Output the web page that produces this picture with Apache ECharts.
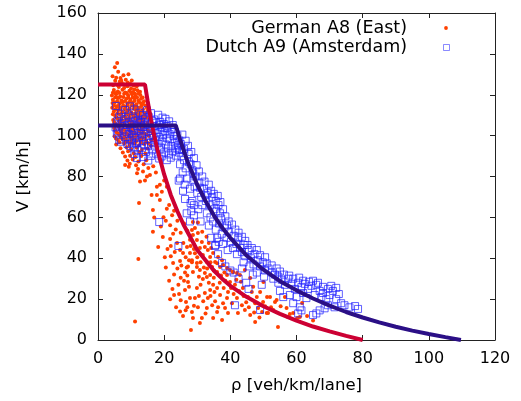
<!DOCTYPE html>
<html>
<head>
<meta charset="utf-8">
<script src="https://cdn.jsdelivr.net/npm/echarts@6/dist/echarts.min.js"></script>
<style>
  html, body { margin: 0; padding: 0; background: #fff; }
  #chart { width: 521px; height: 401px; }
</style>
</head>
<body>
<div id="chart"></div>
<script>
// Axis ranges and ticks
const xTicks = [0, 20, 40, 60, 80, 100, 120];
const yTicks = [0, 20, 40, 60, 80, 100, 120, 140, 160];

// Measured (density, speed) samples, German A8 (East)
const germanA8 = [
  [5.8,135.5],[5.1,133.4],[6.1,131.2],[4.4,129.1],[7.7,129.6],[9.2,130.0],[6.8,128.2],[8.4,127.4],[10.2,127.0],[5.2,126.8],
  [7.2,125.9],[9.8,125.3],[11.7,124.1],[4.6,124.6],[6.3,123.8],[8.9,124.2],[12.7,121.5],[11.0,122.6],
  [4.8,122.3],[6.0,121.6],[7.4,122.4],[8.2,121.1],[9.5,122.0],[10.6,121.4],[11.9,122.2],
  [4.2,119.6],[5.5,120.3],[6.7,119.2],[7.9,120.5],[9.1,119.8],[10.3,120.2],[11.4,119.4],[12.8,119.9],[13.5,118.7],
  [4.5,117.6],[5.9,118.4],[7.1,117.2],[8.6,118.1],[9.8,117.5],[11.1,118.3],[12.2,117.1],[13.9,116.8],
  [5.0,116.2],[6.4,115.4],[7.6,116.5],[8.9,115.8],[10.4,116.1],[11.6,115.3],[13.0,115.9],[14.4,114.8],
  [4.3,113.7],[5.6,114.4],[6.9,113.5],[8.3,114.2],[9.5,113.4],[10.9,114.5],[12.4,113.6],[13.6,112.9],
  [4.8,111.8],[6.1,112.4],[7.4,111.5],[8.8,112.1],[10.1,111.3],[11.4,112.6],[12.8,111.7],[14.1,111.0],[15.0,112.2],
  [5.2,109.6],[6.6,110.3],[7.9,109.4],[9.3,110.1],[10.7,109.7],[12.0,110.4],[13.3,109.2],[14.6,108.8],
  [4.6,107.7],[6.0,108.3],[7.3,107.4],[8.6,108.0],[9.9,107.2],[11.2,108.4],[12.6,107.6],[13.8,106.9],[15.5,107.8],
  [5.4,105.6],[6.8,106.3],[8.1,105.2],[9.6,106.0],[10.8,105.4],[12.2,106.2],[14.4,105.1],[16.2,104.6],
  [4.9,103.7],[6.3,104.2],[7.6,103.3],[9.0,104.0],[10.4,103.5],[11.7,104.3],[13.1,103.1],[15.0,102.8],
  [5.6,101.6],[7.0,102.2],[8.5,101.3],[9.8,102.0],[11.1,101.4],[12.5,102.3],[14.0,101.2],[16.6,101.0],
  [5.0,99.7],[6.5,100.3],[8.0,99.4],[9.3,100.1],[10.6,99.5],[12.0,100.2],[13.5,99.2],[15.4,99.8],[17.2,98.6],
  [6.0,97.8],[7.4,98.3],[8.8,97.4],[10.2,98.1],[11.6,97.5],[13.0,98.0],[14.6,97.2],
  [5.5,95.7],[7.9,96.2],[9.5,95.4],[11.0,96.0],[12.4,95.3],[14.0,95.9],[16.0,95.1],
  [6.8,93.8],[8.6,94.3],[10.0,93.4],[11.7,94.1],[13.3,93.2],[15.0,93.7],
  [7.5,91.7],[9.1,92.3],[10.8,91.4],[12.5,92.0],[14.3,91.2],
  [8.2,89.8],[9.7,90.2],[11.3,89.5],[13.1,90.0],
  [8.9,87.8],[10.5,88.3],[12.2,87.4],[14.6,88.0],
  [8.2,85.6],[9.6,86.2],[11.5,85.5],[13.8,86.0],[16.7,85.0],
  [9.3,84.8],[12.1,83.7],[15.2,84.2],
  [11.8,81.6],[13.6,82.5],[17.5,82.0],
  [5.5,128.3],[7.0,127.0],[8.0,125.0],[6.6,126.5],[9.0,126.0],[10.8,124.5],[5.9,124.8],[7.9,123.3],[10.0,123.0],
  [4.5,121.0],[5.2,120.9],[6.5,120.8],[8.7,120.9],[10.0,121.0],[11.2,120.5],[12.3,120.6],
  [5.2,118.8],[6.3,118.5],[7.7,118.9],[9.2,118.6],[10.5,118.8],[11.8,118.7],[13.0,118.0],
  [4.4,116.0],[5.8,116.8],[7.0,116.3],[8.2,117.0],[9.6,116.6],[11.0,116.9],[12.4,116.5],[13.6,115.5],
  [4.8,114.9],[6.3,114.0],[7.6,114.8],[9.0,115.0],[10.2,114.9],[11.7,114.1],[13.1,114.5],[14.8,113.5],
  [5.3,112.9],[6.7,112.8],[8.1,113.0],[9.4,112.6],[10.8,113.1],[12.1,112.3],[13.4,112.0],
  [4.5,110.5],[5.9,111.0],[7.1,110.9],[8.5,110.8],[9.9,110.6],[11.3,110.9],[12.7,110.6],[14.0,110.0],[15.8,110.5],
  [5.6,108.9],[7.0,108.6],[8.3,108.9],[9.6,108.8],[11.0,109.0],[12.3,108.7],[13.6,108.2],
  [4.9,106.6],[6.4,107.0],[7.7,106.8],[9.1,107.1],[10.5,106.7],[11.8,106.9],[13.2,106.5],[15.0,106.3],
  [5.9,104.9],[7.2,105.0],[8.6,104.8],[10.0,104.9],[11.4,105.0],[12.9,104.7],[13.8,104.5],
  [5.2,102.6],[6.6,102.9],[8.0,102.7],[9.4,102.8],[10.7,102.6],[12.1,102.9],[13.6,102.5],[15.5,102.0],
  [6.1,100.9],[7.5,101.0],[8.9,100.8],[10.2,100.9],[11.6,100.7],[13.0,100.9],[14.7,100.4],
  [5.4,98.6],[6.9,98.9],[8.4,98.7],[9.8,98.8],[11.2,98.9],[12.6,98.5],[14.2,98.7],[16.1,97.8],
  [6.5,96.8],[8.3,97.0],[9.9,96.7],[11.4,96.9],[12.9,96.6],[15.2,96.3],
  [12.7,77.5],[14.2,78.0],[14.8,80.0],[15.7,80.7],[16.2,71.0],[17.8,75.0],[18.7,76.0],[19.3,72.5],[17.8,71.0],[20.0,78.0],
  [20.8,75.0],[12.4,67.0],[18.7,68.5],[16.6,63.6],[20.8,64.2],[20.5,58.3],[22.4,61.0],[21.5,66.0],[23.0,63.2],[19.8,60.1],
  [21.8,56.2],[24.0,58.4],[23.5,54.1],[16.6,53.0],[19.6,50.4],[21.8,49.4],[22.7,52.0],[23.9,47.5],[24.8,44.0],[25.7,42.6],
  [22.7,37.7],[24.8,38.6],[26.3,33.0],[27.5,39.0],[28.4,38.0],[29.3,42.5],[26.9,45.5],[27.8,49.0],[29.9,35.7],[12.2,39.6],
  [21.0,44.5],[22.0,41.0],[23.2,43.0],[24.0,35.0],[25.2,36.5],[25.0,30.5],[23.0,32.0],[26.8,35.5],[27.0,31.5],[24.3,27.0],
  [11.2,9.0],[21.8,20.0],[23.6,16.0],[25.7,11.7],[26.0,29.0],[27.2,28.4],[27.5,26.0],[26.3,24.5],[26.6,18.6],[28.4,13.7],
  [28.1,4.9],[28.7,10.8],[29.3,20.5],[29.9,25.4],[30.2,16.0],[30.8,8.3],[31.4,10.8],[31.7,29.8],[32.3,23.0],[32.9,15.7],
  [33.2,20.5],[34.5,17.0],[34.8,10.8],[35.4,19.0],[36.0,13.7],[36.0,25.4],[36.3,16.0],[36.9,22.0],[37.5,9.8],[37.8,18.0],
  [38.4,15.7],[39.0,20.5],[39.3,13.2],[34.8,27.0],[33.9,24.5],[32.9,30.8],
  [39.0,31.8],[39.9,28.4],[41.4,27.0],[39.3,23.5],[42.0,20.5],[40.5,18.0],[43.5,17.0],[42.3,13.2],[44.4,14.7],[46.0,12.2],
  [47.5,8.8],[45.3,21.0],[47.5,18.0],[48.4,15.7],[49.6,13.7],[51.4,13.2],[54.4,6.4],[58.0,12.7],[59.0,13.2],[60.2,10.8],
  [61.0,11.3],[63.2,11.7],[57.0,15.7],[53.5,18.6],[51.1,21.0],[49.0,23.5],[46.9,26.0],[43.8,25.4],[42.9,31.8],[40.8,33.3],
  [44.4,34.2],[46.0,30.3],[49.9,18.6],
  [28.4,53.8],[29.3,54.8],[28.7,51.4],[30.2,52.3],[29.9,48.9],[31.4,47.9],[30.8,45.0],[32.3,45.5],[33.2,44.0],[31.7,41.6],
  [33.9,40.6],[34.8,42.6],[28.4,39.0],[32.9,38.2],[35.4,38.2],[36.3,40.6],[37.5,39.0],[34.5,35.7],[36.9,35.7],[37.8,36.7],
  [39.0,35.2],[39.9,34.2],[36.0,33.3],[40.8,33.3],[42.0,32.8],[27.8,42.6],[29.9,37.7],[28.7,33.3],[30.8,34.2],[32.3,32.8],
  [33.9,31.8],[28.7,57.7],
  [50.0,28.4],[52.0,21.0],[54.0,19.6],[53.0,14.7],[51.0,13.2],[57.4,11.3],[56.5,21.0],[61.7,18.1],[55.2,16.5],[65.0,9.5],
  [20.5,35.5],[21.5,29.0],[22.5,25.0],[23.0,22.0],[24.5,22.5],[25.0,19.5],[24.8,14.0],[26.5,14.5],[27.8,20.5],[27.0,16.0],
  [29.0,16.8],[30.5,21.5],[31.0,27.0],[30.5,31.0],[31.8,19.0],[32.5,13.0],[33.5,28.0],[34.0,21.5],[35.2,23.5],[35.0,30.5],
  [36.8,28.0],[37.2,31.5],[38.0,25.5],[38.5,29.0],[40.2,25.5],[41.0,22.5],[41.8,29.5],[42.6,24.0],[43.2,28.5],[44.0,21.5],
  [44.8,18.5],[45.6,16.0],[46.5,23.5],[47.2,13.5],[48.0,21.0],[48.8,11.0],[50.5,16.5],[52.3,16.0],[25.8,47.5],[26.5,40.5],
  [27.2,36.0],[28.0,46.0],[29.0,44.5],[30.0,40.5],[31.0,38.0],[32.0,35.5],[33.0,35.0],[34.0,38.0],[35.0,34.0],[36.0,37.5],
  [38.2,33.0],[30.2,57.5],[31.5,53.0],[32.8,50.5],[33.5,47.5],[34.2,45.0],[25.0,52.5],[26.0,57.0],[27.0,53.5],[22.0,46.0],
  [20.2,40.5],[18.2,45.5],[19.0,55.5],[17.0,60.0]
];

// Measured (density, speed) samples, Dutch A9 (Amsterdam)
const dutchA9 = [
  [5.4,114.5],[9.7,114.3],[8.2,112.5],[11.0,112.8],[14.8,112.4],[12.5,111.2],[7.0,110.8],[16.0,111.0],[13.6,110.1],[9.2,109.8],
  [18.2,110.2],[6.3,109.0],[10.6,108.7],[15.3,109.3],[19.5,108.8],[8.0,108.1],[12.0,107.8],[14.2,108.3],[17.0,107.9],[20.4,108.2],
  [5.8,107.0],[9.5,106.8],[11.3,107.2],[13.0,106.9],[16.4,107.1],[18.8,106.7],[21.5,107.0],[7.2,106.1],[10.2,105.8],[12.6,106.2],
  [15.0,105.9],[17.6,106.3],[19.9,105.7],[6.5,104.9],[8.8,105.2],[11.8,104.8],[14.0,105.1],[16.8,104.7],[18.5,105.3],[21.0,104.8],
  [22.6,105.2],[5.3,104.0],[9.9,103.8],[13.4,104.2],[15.7,103.9],[19.2,104.1],[20.8,103.7],[7.6,103.1],[11.0,102.8],[12.9,103.2],
  [17.3,102.9],[22.0,103.0],[6.0,102.1],[8.5,101.8],[10.4,102.2],[14.6,101.9],[16.2,102.3],[18.9,101.7],[20.3,102.1],[23.2,101.8],
  [5.7,101.0],[9.3,100.8],[12.2,101.2],[13.8,100.9],[17.8,101.1],[21.6,100.7],[7.0,97.0],[10.9,100.1],[15.4,99.8],[19.6,100.2],
  [22.8,99.7],[24.0,100.0],[8.2,99.1],[11.6,98.8],[13.3,99.2],[16.7,98.9],[18.4,99.3],[20.9,98.7],[6.4,98.0],[9.8,97.8],
  [14.9,98.2],[17.4,97.7],[21.8,98.1],[24.6,97.6],[10.3,96.2],[12.4,97.1],[16.0,96.8],[19.3,97.2],[23.3,96.7],[8.9,95.9],
  [11.5,96.1],[13.9,95.8],[18.0,96.2],[20.5,95.7],[25.0,95.9],[9.6,95.0],[15.1,94.8],[17.0,95.2],[22.2,94.9],[24.2,95.3],
  [13.3,94.0],[10.8,93.8],[19.0,94.2],[21.2,93.7],[23.7,94.1],[12.0,93.0],[16.3,92.8],[18.6,93.2],[25.5,92.9],[14.5,92.0],
  [20.0,91.8],[22.6,92.2],[24.5,91.7],[11.0,91.0],[17.5,91.2],[21.4,90.8],[13.6,89.5],[16.0,90.1],[19.2,89.8],[23.5,90.2],
  [11.8,89.0],[18.5,88.8],[22.0,89.2],[20.8,88.0],[15.2,87.8],
  [24.5,93.0],[25.2,90.0],[26.0,88.0],[24.8,86.0],[26.5,84.0],[27.4,91.0],[25.6,82.0],[27.0,79.0],[28.0,86.0],[28.6,83.0],
  [26.2,76.0],[27.8,74.0],[24.4,78.0],[28.8,78.0],[24.8,79.0],[25.7,73.0],[26.3,69.0],
  [29.2,75.0],[30.0,72.0],[29.5,80.0],[30.6,77.0],[31.2,70.0],[32.0,74.0],[31.5,66.0],[32.6,68.0],[33.2,72.0],[30.3,64.0],
  [28.5,68.0],[33.8,66.0],[34.5,70.0],[32.9,62.0],[34.0,60.0],[35.2,64.0],[29.0,61.0],[31.0,58.0],[35.6,68.0],[36.4,66.0],
  [36.9,62.0],[27.8,58.0],[26.8,62.0],[28.2,63.0],[29.0,66.0],[28.0,67.0],[18.5,57.7],[24.3,46.0],
  [33.5,56.0],[34.8,58.0],[35.6,54.0],[36.6,57.0],[37.4,52.0],[38.2,55.0],[36.0,50.0],[38.9,50.0],[39.5,53.0],[40.2,48.0],
  [41.0,51.0],[37.8,47.0],[40.8,45.0],[41.8,47.0],[42.4,50.0],[39.2,44.0],[34.2,50.0],[35.4,46.0],[36.3,42.0],[43.0,45.0],
  [35.5,46.5],[37.5,37.7],[40.0,34.0],[36.5,48.0],
  [42.0,42.0],[43.5,43.0],[44.5,41.0],[45.5,44.0],[46.2,40.0],[47.3,42.0],[44.0,38.0],[45.8,36.0],[47.0,37.0],[48.2,39.0],
  [49.0,36.0],[49.8,38.0],[50.5,34.0],[51.5,35.0],[52.5,33.0],[48.0,33.0],[50.2,31.0],[53.5,32.0],[46.8,32.0],[43.5,35.0],
  [41.0,33.0],[38.5,36.0],[42.5,30.0],[44.8,28.0],[45.5,25.0],[49.5,27.0],[41.4,17.0],[49.0,14.7],
  [53.0,30.0],[54.5,28.0],[55.5,29.5],[56.5,27.0],[57.5,30.0],[58.5,27.5],[59.5,25.0],[60.5,28.0],[61.5,26.0],[62.5,27.5],
  [63.5,25.0],[64.5,26.5],[65.0,29.0],[66.0,27.0],[67.0,24.0],[58.0,22.0],[60.0,21.0],[62.0,23.0],[55.0,24.0],[56.0,21.0],
  [63.0,20.5],[65.5,22.0],[67.5,21.0],[59.0,18.0],[61.0,16.0],
  [68.0,23.0],[69.0,20.0],[70.0,22.0],[71.0,24.0],[72.0,20.0],[72.8,22.5],[73.5,18.0],[74.5,17.0],[76.0,16.0],[77.7,16.6],
  [78.6,15.2],[69.5,17.0],[66.0,13.0],[67.0,14.5],[65.0,12.2],[68.5,15.5],[71.5,16.0],[60.5,13.0],[61.5,14.5],
  [25.5,100.5],[26.5,97.5],[27.2,95.0],[26.0,93.5],[28.2,92.0],[29.0,89.0],[27.5,87.0],[29.8,85.5],[30.5,82.5],[28.8,81.5],
  [31.5,80.0],[32.2,77.5],[30.8,74.5],[33.5,76.0],[34.2,73.0],[35.0,71.5],[32.5,71.0],[36.2,70.5],[37.0,67.5],[35.8,63.0],
  [37.8,64.0],[38.5,60.5],[37.2,59.5],[39.5,58.0],[40.5,56.5],[39.0,56.0],[41.5,54.0],[42.5,52.5],[43.5,50.5],[44.5,48.5],
  [45.2,46.5],[46.5,45.0],[44.0,46.5],[48.0,44.0],[49.0,41.5],[50.5,40.5],[51.0,37.5],[52.5,36.5],[54.0,35.0],[55.0,33.5],
  [56.2,32.0],[54.5,31.0],[57.8,31.5],[59.0,30.0],[60.8,30.5],[62.0,29.0],[63.8,28.5],[66.5,28.0],[68.0,26.0],[69.5,25.0],
  [70.5,26.5],[72.0,25.5]
];

// Fitted speed-density curves (density values and matching speeds)
const germanFitRho = [0, 14.2, 15, 16, 17, 18, 19, 20, 22, 24, 26, 28, 30, 32.5, 35, 37.5, 40, 45, 50, 55, 60, 65, 70, 75, 80];
const germanFitV   = [125, 125, 117, 108, 100, 93, 87, 81, 71, 63, 56, 50, 44, 39, 34, 30, 26.5, 21, 16.5, 12.8, 9.5, 6.6, 4.2, 2.0, 0];
const dutchFitRho  = [0, 23.5, 25, 27, 30, 32.5, 35, 37.5, 40, 45, 50, 55, 60, 65, 70, 75, 80, 85, 90, 95, 100, 105, 109.7];
const dutchFitV    = [105, 105, 97, 87.6, 76, 68, 61, 55, 50, 41.2, 34.4, 28.8, 24.3, 20.3, 16.8, 13.7, 11.0, 8.6, 6.5, 4.6, 2.9, 1.4, 0];

// Legend entries
const legendNames = ['German A8 (East)', 'Dutch A9 (Amsterdam)'];

const FONT = 'DejaVu Sans';
const AXIS_COLOR = '#222';
const RED_DOT = '#ff4000';
const BLUE_BOX = 'rgba(30,30,255,0.7)';
const pairs = (xs, ys) => xs.map((x, i) => [x, ys[i]]);

function valueAxis(ticks, position, showLabels, extra) {
  return Object.assign({
    type: 'value',
    position: position,
    min: ticks[0],
    max: ticks[ticks.length - 1],
    interval: ticks[1] - ticks[0],
    axisLine: { show: true, onZero: false, lineStyle: { color: AXIS_COLOR, width: 1 } },
    axisTick: { show: true, inside: true, length: 5, lineStyle: { color: AXIS_COLOR, width: 1 } },
    axisLabel: { show: showLabels, fontFamily: FONT, fontSize: 16, color: '#000', margin: 11,
                 showMinLabel: true, showMaxLabel: true, hideOverlap: false },
    splitLine: { show: false }
  }, extra || {});
}

const legendFont = '17.5px "DejaVu Sans"';
const chart = echarts.init(document.getElementById('chart'), null, { renderer: 'canvas' });
chart.setOption({
  animation: false,
  backgroundColor: '#fff',
  grid: { left: 98, right: 26, top: 13, bottom: 61, containLabel: false, outerBoundsMode: 'none' },
  xAxis: [
    valueAxis(xTicks, 'bottom', true, {
      name: 'ρ [veh/km/lane]', nameLocation: 'middle', nameGap: 37,
      nameTextStyle: { fontFamily: FONT, fontSize: 16.5, color: '#000' }
    }),
    valueAxis(xTicks, 'top', false)
  ],
  yAxis: [
    valueAxis(yTicks, 'left', true, {
      name: 'V [km/h]', nameLocation: 'middle', nameGap: 66,
      nameTextStyle: { fontFamily: FONT, fontSize: 16.5, color: '#000' }
    }),
    valueAxis(yTicks, 'right', false)
  ],
  // key box in the upper right corner, text right-aligned against the markers
  graphic: [
    { type: 'text', x: 407, y: 28, silent: true,
      style: { text: legendNames[0], font: legendFont, fill: '#000', align: 'right', verticalAlign: 'middle' } },
    { type: 'circle', silent: true, shape: { cx: 446, cy: 28, r: 1.9 }, style: { fill: RED_DOT } },
    { type: 'text', x: 407, y: 47, silent: true,
      style: { text: legendNames[1], font: legendFont, fill: '#000', align: 'right', verticalAlign: 'middle' } },
    { type: 'rect', silent: true, shape: { x: 443.5, y: 44.5, width: 6, height: 6 },
      style: { fill: 'none', stroke: 'rgba(60,60,255,0.6)', lineWidth: 1 } }
  ],
  series: [
    {
      name: legendNames[0], type: 'scatter', xAxisIndex: 0, yAxisIndex: 0,
      data: germanA8, symbol: 'circle', symbolSize: 4, silent: true,
      itemStyle: { color: RED_DOT, opacity: 1 }
    },
    {
      name: legendNames[1], type: 'scatter', xAxisIndex: 0, yAxisIndex: 0,
      data: dutchA9, symbol: 'rect', symbolSize: 7, silent: true,
      itemStyle: { color: 'rgba(0,0,0,0)', borderColor: BLUE_BOX, borderWidth: 1, opacity: 1 }
    },
    {
      name: 'German A8 fit', type: 'line', xAxisIndex: 0, yAxisIndex: 0,
      data: pairs(germanFitRho, germanFitV), showSymbol: false, symbol: 'none', silent: true,
      lineStyle: { color: '#cc0033', width: 4 }
    },
    {
      name: 'Dutch A9 fit', type: 'line', xAxisIndex: 0, yAxisIndex: 0,
      data: pairs(dutchFitRho, dutchFitV), showSymbol: false, symbol: 'none', silent: true,
      lineStyle: { color: '#2b0f86', width: 4 }
    }
  ]
});
</script>
</body>
</html>
